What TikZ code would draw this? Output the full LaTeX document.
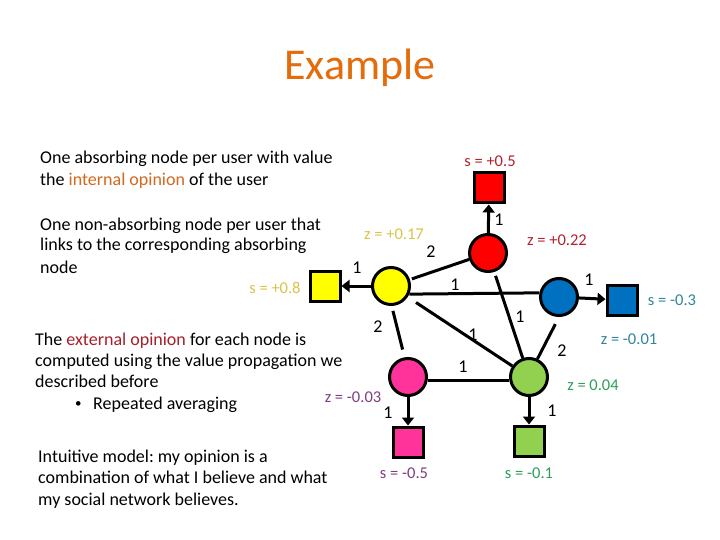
\documentclass[tikz,border=0pt]{standalone}
\usepackage{fontspec}
\setmainfont{Carlito}
\usetikzlibrary{arrows.meta}
\frenchspacing
\definecolor{titleor}{HTML}{E46C0A}
\definecolor{intor}{HTML}{D2691E}
\definecolor{extred}{HTML}{A5202A}
\definecolor{ylab}{HTML}{D8C44A}
\definecolor{rlab}{HTML}{B22230}
\definecolor{blab}{HTML}{31849B}
\definecolor{glab}{HTML}{2E9E5A}
\definecolor{plab}{HTML}{7F3F7F}
\definecolor{nred}{HTML}{FF0000}
\definecolor{nyel}{HTML}{FFFF00}
\definecolor{nblue}{HTML}{0070C0}
\definecolor{npink}{HTML}{FF3399}
\definecolor{ngreen}{HTML}{92D050}
\begin{document}
\begin{tikzpicture}[x=1pt,y=-1pt,
  txt/.style={anchor=base west,inner sep=0pt,font=\fontsize{18}{21}\selectfont},
  lab/.style={inner sep=0pt,font=\fontsize{16.5}{19}\selectfont},
  wt/.style={inner sep=0pt,font=\fontsize{18}{21}\selectfont},
  usr/.style={circle,draw=black,line width=3pt,minimum size=37pt,inner sep=0pt},
  absn/.style={rectangle,draw=black,line width=3pt,minimum size=30pt,inner sep=0pt},
  edge/.style={line width=3pt},
  arr/.style={line width=3pt,-{Triangle[length=8pt,width=12pt]}}]
\useasboundingbox (0,0) rectangle (720,540);
\fill[white] (0,0) rectangle (720,540);
% title
\node[inner sep=0pt,text=titleor,font=\fontsize{44}{48}\selectfont] (title) at (360,68) {Example};
% text
\node[txt] (t1) at (40,164) {One absorbing node per user with value};
\node[txt] (t2) at (40,186) {the \textcolor{intor}{internal opinion} of the user};
\node[txt] (t3) at (40,230) {One non-absorbing node per user that};
\node[txt] (t4) at (40,251) {links to the corresponding absorbing};
\node[txt] (t5) at (40,273) {node};
\node[txt] (t6) at (35,345) {The \textcolor{extred}{external opinion} for each node is};
\node[txt] (t7) at (35,366) {computed using the value propagation we};
\node[txt] (t8) at (35,387) {described before};
\node[txt,font=\fontsize{13}{15}\selectfont] (t9) at (75,407) {•};
\node[txt] (t10) at (93,409) {Repeated averaging};
\node[txt] (t11) at (38,462) {Intuitive model: my opinion is a};
\node[txt] (t12) at (38,483) {combination of what I believe and what};
\node[txt] (t13) at (38,505) {my social network believes.};
% nodes
\node[usr,fill=nyel] (Yc) at (391,286) {};
\node[absn,fill=nyel] (Ys) at (325,286) {};
\node[usr,fill=nred] (Rc) at (488,253) {};
\node[absn,fill=nred] (Rs) at (489,188) {};
\node[usr,fill=nblue] (Bc) at (559,297) {};
\node[absn,fill=nblue] (Bs) at (622,300) {};
\node[usr,fill=npink] (Pc) at (408,377) {};
\node[absn,fill=npink] (Ps) at (408,442) {};
\node[usr,fill=ngreen] (Gc) at (529,377) {};
\node[absn,fill=ngreen] (Gs) at (529,441) {};
% edges
\draw[edge,shorten <=2pt] (Yc) -- (Rc);
\draw[edge] (Yc.-24) -- (Bc.168);
\draw[edge,shorten <=5pt,shorten >=8pt] (Yc.-88) -- (Pc.100);
\draw[edge,shorten <=10pt] (Yc) -- (Gc);
\draw[edge,shorten <=4pt] (Rc) -- (Gc);
\draw[edge,shorten <=8pt] (Bc.-90) -- (Gc.65);
\draw[edge] (Pc.-11) -- (Gc.191);
% arrows
\draw[arr] (Yc) -- (Ys);
\draw[arr] (Rc) -- (Rs);
\draw[arr] (Bc) -- (Bs);
\draw[arr] (Pc) -- (Ps);
\draw[arr] (Gc) -- (Gs);
% weights
\node[wt] (w1) at (357,268) {1};
\node[wt] (w2) at (431,252) {2};
\node[wt] (w3) at (499,220) {1};
\node[wt] (w4) at (455,285) {1};
\node[wt] (w5) at (589,280) {1};
\node[wt] (w6) at (378,327) {2};
\node[wt] (w7) at (473,335) {1};
\node[wt] (w8) at (520,317) {1};
\node[wt] (w9) at (562,351) {2};
\node[wt] (w10) at (463,367) {1};
\node[wt] (w11) at (388,413) {1};
\node[wt] (w12) at (552,411) {1};
% values
\node[lab,text=ylab] (l1) at (275,288) {s = +0.8};
\node[lab,text=ylab] (l2) at (394,234) {z = +0.17};
\node[lab,text=rlab] (l3) at (490,161) {s = +0.5};
\node[lab,text=rlab] (l4) at (557,240) {z = +0.22};
\node[lab,text=blab] (l5) at (672,300) {s = -0.3};
\node[lab,text=blab] (l6) at (629,339) {z = -0.01};
\node[lab,text=glab] (l7) at (593,385) {z = 0.04};
\node[lab,text=plab] (l8) at (353,397) {z = -0.03};
\node[lab,text=plab] (l9) at (404,473) {s = -0.5};
\node[lab,text=glab] (l10) at (529,473) {s = -0.1};
\end{tikzpicture}
\end{document}
